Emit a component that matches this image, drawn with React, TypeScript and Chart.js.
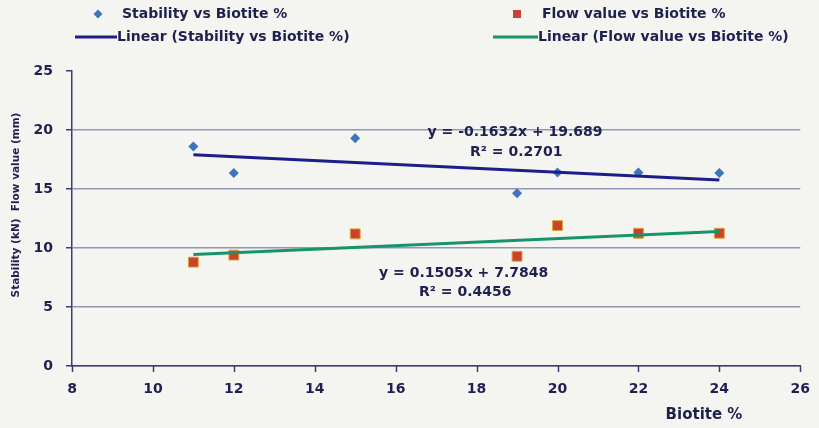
import React, { useEffect, useRef } from "react";
import { Chart, registerables } from "chart.js";

Chart.register(...registerables);

const biotite = [11, 12, 15, 19, 20, 22, 24];
const stability = [18.6, 16.35, 19.3, 14.65, 16.4, 16.4, 16.35];
const flow = [8.8, 9.4, 11.2, 9.3, 11.9, 11.25, 11.25];

const stabilityFit = { slope: -0.1632, intercept: 19.689 };
const flowFit = { slope: 0.1505, intercept: 7.7848 };

const stabilityEq = ["y = -0.1632x + 19.689", "R² = 0.2701"];
const flowEq = ["y = 0.1505x + 7.7848", "R² = 0.4456"];

const xTicks = [8, 10, 12, 14, 16, 18, 20, 22, 24, 26];
const yTicks = [0, 5, 10, 15, 20, 25];

const legendLabels = [
  "Stability vs Biotite %",
  "Linear (Stability vs Biotite %)",
  "Flow value vs Biotite %",
  "Linear (Flow value vs Biotite %)",
];
const xTitle = "Biotite %";
const yTitle = "Stability (kN)  Flow value (mm)";

const FONT = "'DejaVu Sans', sans-serif";
const TEXT = "#1e2050";
const AXIS = "#3a3c78";
const GRID = "#9097b4";
const BLUE_PT = "#3d74bb";
const RED_PT = "#cc4030";
const NAVY = "#1d1d8a";
const GREEN = "#18946a";
const BG = "#f4f4f1";

const xMin = Math.min(...biotite);
const xMax = Math.max(...biotite);
const fitLine = (f: { slope: number; intercept: number }) => [
  { x: xMin, y: f.slope * xMin + f.intercept },
  { x: xMax, y: f.slope * xMax + f.intercept },
];

const drawDiamond = (ctx: CanvasRenderingContext2D, x: number, y: number, r: number) => {
  ctx.beginPath();
  ctx.moveTo(x, y - r);
  ctx.lineTo(x + r, y);
  ctx.lineTo(x, y + r);
  ctx.lineTo(x - r, y);
  ctx.closePath();
  ctx.fill();
};

const overlay = {
  id: "overlay",
  beforeDraw(chart: any) {
    const ctx = chart.ctx;
    ctx.save();
    ctx.fillStyle = BG;
    ctx.fillRect(0, 0, chart.width, chart.height);
    ctx.restore();
  },
  afterDraw(chart: any) {
    const ctx: CanvasRenderingContext2D = chart.ctx;
    const xs = chart.scales.x;
    const ys = chart.scales.y;
    ctx.save();

    // x-axis tick marks
    ctx.strokeStyle = AXIS;
    ctx.lineWidth = 1.5;
    const bottom = chart.chartArea.bottom;
    xTicks.forEach((v) => {
      const px = Math.round(xs.getPixelForValue(v)) + 0.5;
      ctx.beginPath();
      ctx.moveTo(px, bottom);
      ctx.lineTo(px, bottom + 6);
      ctx.stroke();
    });

    ctx.fillStyle = TEXT;
    ctx.textBaseline = "middle";

    // legend
    ctx.font = `bold 14px ${FONT}`;
    ctx.textAlign = "left";
    ctx.fillStyle = BLUE_PT;
    drawDiamond(ctx, 98, 14, 4.5);
    ctx.fillStyle = TEXT;
    ctx.fillText(legendLabels[0], 122, 14);
    ctx.strokeStyle = NAVY;
    ctx.lineWidth = 3;
    ctx.beginPath();
    ctx.moveTo(75, 37);
    ctx.lineTo(117, 37);
    ctx.stroke();
    ctx.fillText(legendLabels[1], 117, 37);

    ctx.fillStyle = RED_PT;
    ctx.fillRect(513, 10, 8, 8);
    ctx.fillStyle = TEXT;
    ctx.fillText(legendLabels[2], 542, 14);
    ctx.strokeStyle = GREEN;
    ctx.beginPath();
    ctx.moveTo(493, 37);
    ctx.lineTo(538, 37);
    ctx.stroke();
    ctx.fillText(legendLabels[3], 538, 37);

    // equations
    ctx.font = `bold 14px ${FONT}`;
    ctx.textAlign = "center";
    ctx.fillText(stabilityEq[0], xs.getPixelForValue(18.95), ys.getPixelForValue(19.83));
    ctx.fillText(stabilityEq[1], xs.getPixelForValue(18.98), ys.getPixelForValue(18.14));
    ctx.fillText(flowEq[0], xs.getPixelForValue(17.68), ys.getPixelForValue(7.88));
    ctx.fillText(flowEq[1], xs.getPixelForValue(17.72), ys.getPixelForValue(6.27));

    // x title
    ctx.font = `bold 15px ${FONT}`;
    ctx.fillText(xTitle, 704, 415);

    // y title
    ctx.font = `bold 10.5px ${FONT}`;
    ctx.translate(16, 205);
    ctx.rotate(-Math.PI / 2);
    ctx.fillText(yTitle, 0, 0);
    ctx.restore();
  },
};

export default function App() {
  const ref = useRef<HTMLCanvasElement | null>(null);
  useEffect(() => {
    if (!ref.current) return;
    const chart = new Chart(ref.current, {
      type: "scatter",
      data: {
        datasets: [
          {
            label: legendLabels[1],
            data: fitLine(stabilityFit),
            showLine: true,
            borderColor: NAVY,
            borderWidth: 3,
            pointRadius: 0,
            order: 0,
          },
          {
            label: legendLabels[3],
            data: fitLine(flowFit),
            showLine: true,
            borderColor: GREEN,
            borderWidth: 3,
            pointRadius: 0,
            order: 0,
          },
          {
            label: legendLabels[0],
            data: biotite.map((x, i) => ({ x, y: stability[i] })),
            pointStyle: "rectRot",
            pointRadius: 5,
            backgroundColor: BLUE_PT,
            borderColor: BLUE_PT,
            borderWidth: 0,
            order: 1,
          },
          {
            label: legendLabels[2],
            data: biotite.map((x, i) => ({ x, y: flow[i] })),
            pointStyle: "rect",
            pointRadius: 7,
            backgroundColor: RED_PT,
            borderColor: "#d8a83a",
            borderWidth: 1,
            order: 1,
          },
        ],
      },
      options: {
        animation: false,
        responsive: false,
        layout: { padding: { top: 71, right: 14, left: 0, bottom: 0 } },
        plugins: { legend: { display: false }, tooltip: { enabled: false } },
        scales: {
          x: {
            type: "linear",
            min: 8,
            max: 26,
            afterBuildTicks: (s: any) => {
              s.ticks = xTicks.map((v) => ({ value: v }));
            },
            afterFit: (s: any) => {
              s.height = 62;
            },
            ticks: {
              color: TEXT,
              font: { family: FONT, size: 14, weight: "bold" },
              padding: 9,
              maxRotation: 0,
            },
            grid: { display: false, tickLength: 6 },
            border: { color: AXIS, width: 1.5 },
          },
          y: {
            min: 0,
            max: 25,
            afterBuildTicks: (s: any) => {
              s.ticks = yTicks.map((v) => ({ value: v }));
            },
            afterFit: (s: any) => {
              s.width = 72;
            },
            ticks: {
              color: TEXT,
              font: { family: FONT, size: 14, weight: "bold" },
              padding: 13,
            },
            grid: {
              color: (c: any) => (c.tick && c.tick.value === 25 ? "rgba(0,0,0,0)" : GRID),
              tickColor: AXIS,
              tickLength: 6,
              lineWidth: 1.5,
            },
            border: { color: AXIS, width: 1.5 },
          },
        },
      },
      plugins: [overlay],
    });
    return () => chart.destroy();
  }, []);
  return (
    <div style={{ position: "fixed", left: 0, top: 0, width: 819, height: 428, background: BG }}>
      <canvas ref={ref} width={819} height={428} style={{ width: 819, height: 428 }} />
    </div>
  );
}
